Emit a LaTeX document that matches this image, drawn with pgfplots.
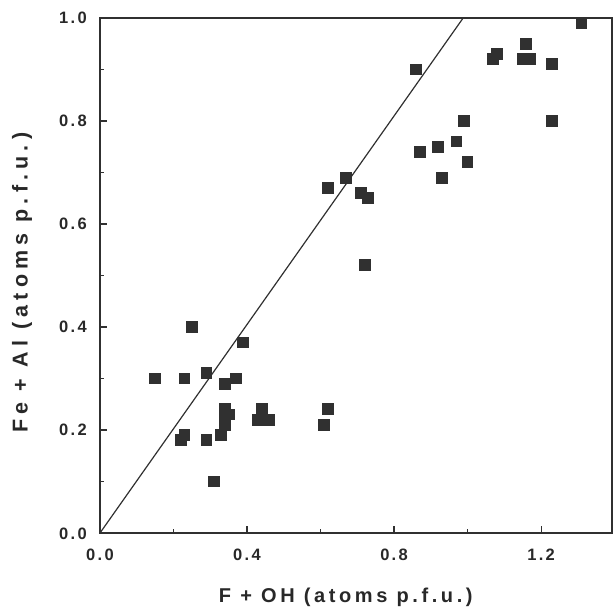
\documentclass[border=0pt]{standalone}
\usepackage{fontspec}
\setmainfont{Liberation Sans}
\newfontfamily\tickfont[LetterSpace=14]{Liberation Sans}
\newfontfamily\labfont[LetterSpace=18]{Liberation Sans}
\newfontfamily\ylabfont[LetterSpace=24]{Liberation Sans}
\usepackage{pgfplots}
\pgfplotsset{compat=1.18}
\definecolor{ink}{RGB}{48,48,48}
\definecolor{txt}{RGB}{40,40,40}
\begin{document}
\begin{tikzpicture}
\useasboundingbox (-100pt,-83pt) rectangle (513pt,533pt);
\begin{axis}[
  at={(0,0)}, anchor=south west,
  scale only axis, width=512pt, height=515pt,
  xmin=0, xmax=1.393, ymin=0, ymax=1,
  xtick={0,0.4,0.8,1.2}, xticklabels={0.0,0.4,0.8,1.2},
  minor xtick={0.2,0.6,1.0},
  ytick={0,0.2,0.4,0.6,0.8,1.0}, yticklabels={0.0,0.2,0.4,0.6,0.8,1.0},
  minor ytick={0.1,0.3,0.5,0.7,0.9},
  xtick pos=bottom, ytick pos=left,
  tick align=inside,
  major tick length=7pt, minor tick length=4pt,
  every tick/.style={ink, line width=1.1pt},
  axis line style={ink, line width=1.6pt},
  xticklabel style={font=\tickfont\bfseries\fontsize{16.5}{18}\selectfont, text=txt, anchor=base, inner sep=0pt, yshift=-27pt},
  yticklabel style={font=\tickfont\bfseries\fontsize{16.5}{18}\selectfont, text=txt, anchor=base east, inner sep=0pt, xshift=-13pt, yshift=-6pt},
  xlabel={F + OH (atoms p.f.u.)},
  ylabel={Fe + Al (atoms p.f.u.)},
  xlabel style={font=\labfont\bfseries\fontsize{20}{22}\selectfont, text=txt, at={(axis description cs:0.48,-0.1243)}, anchor=center, inner sep=0pt},
  ylabel style={font=\ylabfont\bfseries\fontsize{21.5}{23}\selectfont, text=txt, at={(axis description cs:-0.152,0.486)}, anchor=center, inner sep=0pt},
  clip=false,
]
\addplot[ink, line width=1.2pt, no marks] coordinates {(0,0) (0.988,1)};
\addplot[only marks, mark=square*, mark size=5.4pt, mark options={fill=ink, draw=ink, line width=0pt}] coordinates {
(0.15,0.30) (0.23,0.30) (0.25,0.40) (0.29,0.31) (0.34,0.29) (0.37,0.30) (0.39,0.37)
(0.22,0.18) (0.23,0.19) (0.29,0.18) (0.31,0.10)
(0.34,0.24) (0.35,0.23) (0.34,0.22) (0.34,0.21) (0.33,0.19)
(0.44,0.24) (0.43,0.22) (0.45,0.22) (0.46,0.22)
(0.61,0.21) (0.62,0.24)
(0.62,0.67) (0.67,0.69) (0.71,0.66) (0.73,0.65) (0.72,0.52)
(0.86,0.90) (0.87,0.74) (0.92,0.75) (0.97,0.76) (0.99,0.80) (1.00,0.72) (0.93,0.69)
(1.07,0.92) (1.08,0.93) (1.16,0.95) (1.15,0.92) (1.17,0.92) (1.23,0.91)
(1.23,0.80) (1.31,0.99)
};
\end{axis}
\end{tikzpicture}
\end{document}
